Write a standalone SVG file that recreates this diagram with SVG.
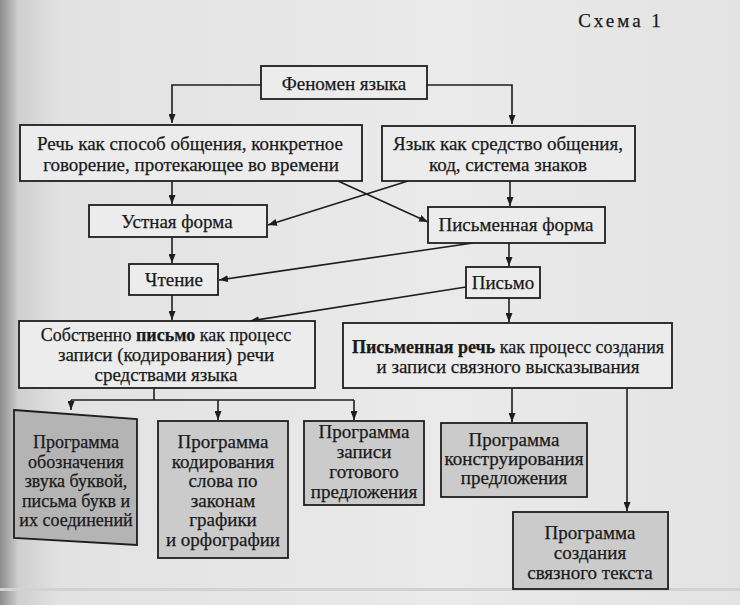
<svg xmlns="http://www.w3.org/2000/svg" width="740" height="605" viewBox="0 0 740 605" font-family="'Liberation Serif', 'DejaVu Serif', serif">
<defs>
<linearGradient id="bg" x1="0" y1="0" x2="1" y2="0">
<stop offset="0" stop-color="#8c8c8c"/>
<stop offset="0.025" stop-color="#cfcfcf"/>
<stop offset="0.08" stop-color="#e2e2e2"/>
<stop offset="0.6" stop-color="#eaeaea"/>
<stop offset="1" stop-color="#e3e3e3"/>
</linearGradient>
<marker id="ah" markerWidth="9" markerHeight="7" refX="9" refY="3.5" orient="auto" markerUnits="userSpaceOnUse">
<path d="M0,0 L9,3.5 L0,7 z" fill="#1e1e1e"/>
</marker>
<style>
.box{fill:#ececec;stroke:#1e1e1e;stroke-width:1.8}
.gbox{fill:#cbcbcb;stroke:#1e1e1e;stroke-width:1.8}
.dbox{fill:#b4b4b4;stroke:#1e1e1e;stroke-width:1.8}
text{fill:#1a1a1a;stroke:#1a1a1a;stroke-width:0.25;text-anchor:middle}
.t{font-size:19px}
.t2{font-size:18px}
.s{font-size:19px}
.s1{font-size:18px}
.b{font-weight:bold}
.c path{fill:none;stroke:#1e1e1e;stroke-width:1.6}
.c .a{marker-end:url(#ah)}
</style>
</defs>
<rect x="0" y="0" width="740" height="605" fill="url(#bg)"/>
<rect x="0" y="588" width="740" height="3" fill="#d2d2d2"/>
<text x="621" y="27" style="font-size:19px;letter-spacing:3px">Схема 1</text>

<g id="connectors" class="c">
<path class="a" d="M261,85 H172 V123"/>
<path class="a" d="M427,85 H512 V124"/>
<path class="a" d="M172,181 V204"/>
<path class="a" d="M510,181 V206"/>
<path class="a" d="M338,181 L428,222"/>
<path class="a" d="M408,181 L268,225"/>
<path class="a" d="M172,237 V263"/>
<path class="a" d="M473,243 L219,280"/>
<path class="a" d="M509,243 V266"/>
<path class="a" d="M172,295 V320"/>
<path class="a" d="M466,287 L250,321"/>
<path class="a" d="M509,298 V322"/>
<path d="M154,388 V400 M71,400 H354"/>
<path class="a" d="M71,400 V410"/>
<path class="a" d="M218,400 V420"/>
<path class="a" d="M354,400 V420"/>
<path class="a" d="M512,388 V422"/>
<path class="a" d="M627,388 V511"/>
</g>

<g id="n1"><rect class="box" x="261" y="66" width="166" height="33"/><text class="t" x="344" y="90">Феномен языка</text></g>
<g id="n2"><rect class="box" x="20" y="125" width="342" height="56"/><text class="t" x="190" y="150">Речь как способ общения,  конкретное</text><text class="t" x="191" y="171">говорение,  протекающее во времени</text></g>
<g id="n3"><rect class="box" x="382" y="126" width="253" height="55"/><text class="t" x="508" y="150">Язык как средство общения,</text><text class="t" x="508" y="171">код,  система знаков</text></g>
<g id="n4"><rect class="box" x="89" y="205" width="178" height="32"/><text class="t" x="177" y="228">Устная форма</text></g>
<g id="n5"><rect class="box" x="428" y="207" width="177" height="36"/><text class="t" x="516" y="231">Письменная форма</text></g>
<g id="n6"><rect class="box" x="129" y="264" width="89" height="31"/><text class="t" x="174" y="286">Чтение</text></g>
<g id="n7"><rect class="box" x="466" y="267" width="74" height="31"/><text class="t" x="503" y="289">Письмо</text></g>
<g id="n8"><rect class="box" x="19" y="321" width="296" height="67"/><text class="t2" x="166" y="341">Собственно <tspan class="b">письмо</tspan> как процесс</text><text class="t" x="166" y="361">записи (кодирования)  речи</text><text class="t" x="166" y="381">средствами языка</text></g>
<g id="n9"><rect class="box" x="343" y="323" width="329" height="65"/><text class="t2" x="508" y="353"><tspan class="b">Письменная речь</tspan> как процесс создания</text><text class="t" x="508" y="373">и записи связного высказывания</text></g>
<g id="n10"><polygon class="dbox" points="14,410 137,419 137,545 14,538"/><text class="s1" x="76" y="448">Программа</text><text class="s1" x="76" y="468">обозначения</text><text class="s1" x="76" y="487">звука буквой,</text><text class="s1" x="76" y="507">письма букв и</text><text class="s1" x="76" y="526">их соединений</text></g>
<g id="n11"><rect class="gbox" x="158" y="421" width="130" height="137"/><text class="s" x="223" y="448">Программа</text><text class="s" x="223" y="468">кодирования</text><text class="s" x="223" y="487">слова по</text><text class="s" x="223" y="507">законам</text><text class="s" x="223" y="526">графики</text><text class="s" x="223" y="546">и орфографии</text></g>
<g id="n12"><rect class="gbox" x="304" y="421" width="120" height="84"/><text class="s" x="364" y="438">Программа</text><text class="s" x="364" y="458">записи</text><text class="s" x="364" y="478">готового</text><text class="s" x="364" y="498">предложения</text></g>
<g id="n13"><rect class="gbox" x="441" y="423" width="146" height="74"/><text class="s" x="514" y="446">Программа</text><text class="s" x="514" y="465">конструирования</text><text class="s" x="514" y="484">предложения</text></g>
<g id="n14"><rect class="gbox" x="513" y="512" width="155" height="77"/><text class="s" x="590" y="539">Программа</text><text class="s" x="590" y="559">создания</text><text class="s" x="590" y="579">связного текста</text></g>
</svg>
